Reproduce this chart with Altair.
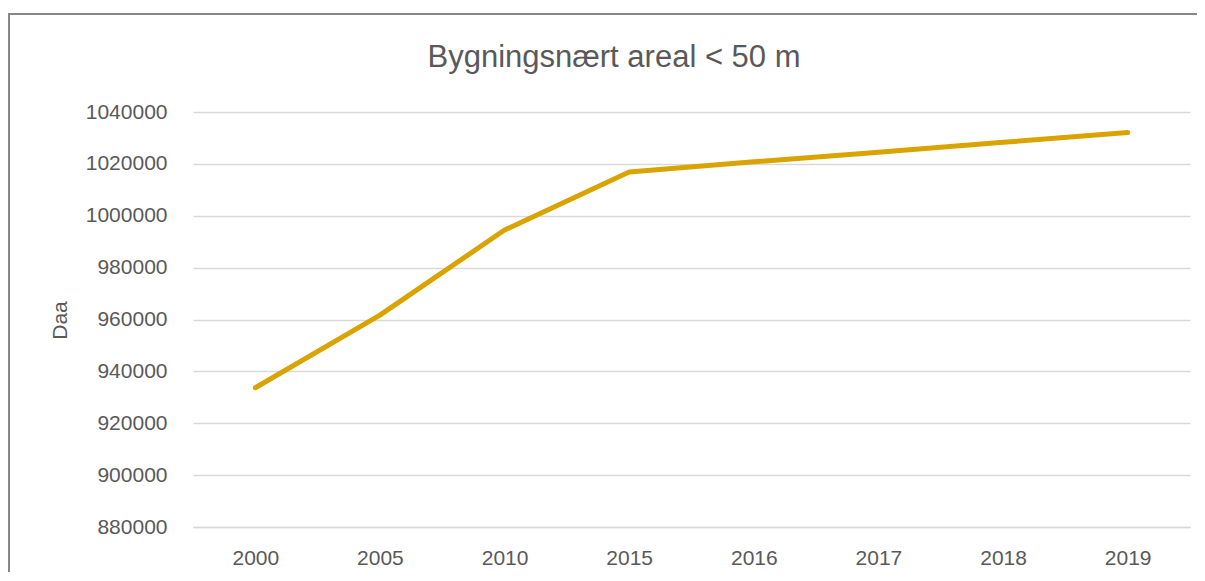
import altair as alt
import pandas as pd

years = ["2000", "2005", "2010", "2015", "2016", "2017", "2018", "2019"]
values = [933700, 961700, 994500, 1016900, 1020800, 1024500, 1028300, 1032100]
y_ticks = [880000, 900000, 920000, 940000, 960000, 980000, 1000000, 1020000, 1040000]
title_text = ["Bygningsnært areal < 50 m"]
y_title = "Daa"

FONT = "Liberation Sans"
TXT = "#595959"
GRID = "#D9D9D9"

df = pd.DataFrame({"year": years, "value": values})
tdf = pd.DataFrame({"t": title_text})

W, H = 997, 415

line = alt.Chart(df).mark_line(
    color="#DAA400", strokeWidth=5, strokeCap="round", strokeJoin="round"
).encode(
    x=alt.X("year:O", sort=years, scale=alt.Scale(type="point", padding=0.5),
            axis=alt.Axis(title=None, labelAngle=0, labelFont=FONT, labelFontSize=21,
                          labelColor=TXT, ticks=False, tickSize=0, labelPadding=20,
                          domainColor=GRID, domainWidth=1.3, grid=False)),
    y=alt.Y("value:Q", scale=alt.Scale(domain=[880000, 1040000], nice=False, zero=False),
            axis=alt.Axis(values=y_ticks, format="d", title=y_title, labelFont=FONT,
                          labelFontSize=21, labelColor=TXT, ticks=False, tickSize=0,
                          labelPadding=26, domain=False, gridColor=GRID, gridWidth=1.3,
                          titleFont=FONT, titleFontSize=21, titleColor=TXT,
                          titleFontWeight="normal", titleAngle=-90, titleX=-133,
                          titleY=208, titleBaseline="middle", titleAlign="center")),
)

title = alt.Chart(tdf).mark_text(
    font=FONT, fontSize=31, color=TXT, align="center", baseline="alphabetic"
).encode(text="t:N", x=alt.value(421), y=alt.value(-45))

frame_left = alt.Chart(tdf).mark_rule(color="#878787", strokeWidth=2).encode(
    x=alt.value(-184), y=alt.value(-98), y2=alt.value(460))
frame_top = alt.Chart(tdf).mark_rule(color="#878787", strokeWidth=2).encode(
    x=alt.value(-185), x2=alt.value(1030), y=alt.value(-98))

chart = alt.layer(frame_left, frame_top, line, title).properties(
    width=W, height=H,
    background="white",
    autosize=alt.AutoSizeParams(type="none"),
    padding={"left": 185, "top": 104, "right": 7, "bottom": 46},
).configure_view(stroke=None, strokeWidth=0)

chart.save("out.html", embed_options={"renderer": "svg", "actions": False})
